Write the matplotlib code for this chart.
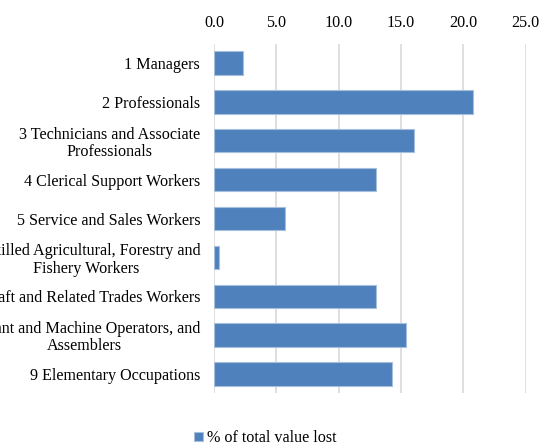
import numpy as np
import matplotlib.pyplot as plt

categories = ["1 Managers",
              "2 Professionals",
              "3 Technicians and Associate\nProfessionals",
              "4 Clerical Support Workers",
              "5 Service and Sales Workers",
              "6 Skilled Agricultural, Forestry and\nFishery Workers",
              "7 Craft and Related Trades Workers",
              "8 Plant and Machine Operators, and\nAssemblers",
              "9 Elementary Occupations"]
values = [2.3, 20.8, 16.0, 13.0, 5.7, 0.4, 13.0, 15.4, 14.3]
series_name = "% of total value lost"
xticks = [0, 5, 10, 15, 20, 25]

plt.rcParams['font.family'] = ['Liberation Serif', 'DejaVu Serif']

fig = plt.figure(figsize=(5.42, 4.46), dpi=100)
ax = fig.add_axes([0.395, 0.118, 0.575, 0.784])

y = np.arange(len(categories))
ax.barh(y, values, height=0.6, color='#4f81bd', edgecolor='#a7bfde', linewidth=0.8,
        label=series_name, zorder=3)
ax.set_ylim(len(categories) - 0.5, -0.5)
ax.set_xlim(0, 25)
ax.set_yticks(y)
ax.set_yticklabels(categories, fontsize=11.6, ha='right', multialignment='center',
                   linespacing=1.1)
ax.set_xticks(xticks)
ax.set_xticklabels([f"{t:.1f}" for t in xticks], fontsize=11.6)
ax.xaxis.tick_top()
ax.tick_params(axis='y', length=0, pad=10)
ax.tick_params(axis='x', length=0, pad=9)
ax.grid(axis='x', color='#d9d9d9', linewidth=1.2, zorder=0)
for s in ax.spines.values():
    s.set_visible(False)

fig.legend(loc='lower center', bbox_to_anchor=(0.49, -0.033), frameon=False,
           fontsize=11.6, handlelength=0.55, handleheight=0.55, handletextpad=0.25)

fig.savefig('out.png', dpi=100)
